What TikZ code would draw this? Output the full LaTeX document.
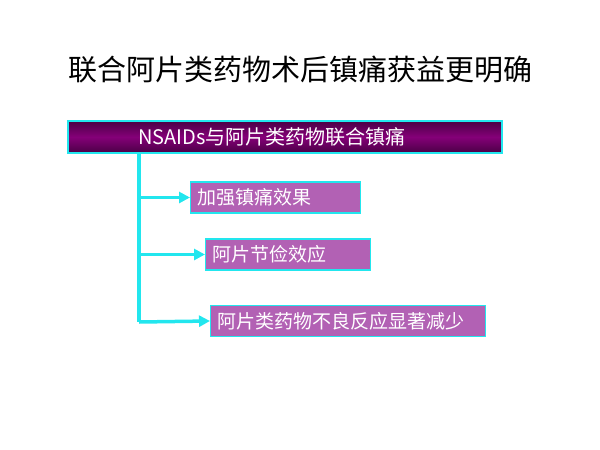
\documentclass[tikz,border=0pt]{standalone}
\usepackage{fontspec}
\newfontfamily\cjk{Noto Sans CJK SC}
\usetikzlibrary{positioning}
\usetikzlibrary{arrows.meta}
\definecolor{lineblue}{HTML}{22E6EE}
\definecolor{headtop}{HTML}{4A0045}
\definecolor{headmid}{HTML}{850078}
\definecolor{itemfill}{HTML}{B261B4}
\tikzset{
  x = 1pt, y = -1pt,
  > = {Triangle[length=11pt, width=11pt]},
  head/.style = {rectangle,
                 draw = lineblue,
                 line width = 2pt,
                 top color = headtop,
                 bottom color = headtop,
                 middle color = headmid,
                 text = white,
                 font = \cjk\fontsize{20}{24}\selectfont,
                 minimum width = 434pt,
                 minimum height = 32pt,
                 text width = 294pt,
                 align = left,
                 inner xsep = 0pt,
                 inner ysep = 0pt},
  item/.style = {rectangle,
                 draw = lineblue,
                 line width = 1.2pt,
                 fill = itemfill,
                 text = white,
                 anchor = west,
                 align = left,
                 font = \cjk\fontsize{19}{22}\selectfont,
                 minimum height = 31pt,
                 inner xsep = 7pt,
                 inner ysep = 0pt},
  branch/.style = {draw = lineblue, line width = 3.5pt, ->}
}
\begin{document}
\begin{tikzpicture}
\useasboundingbox (0,0) rectangle (600,450);

\node[font = \cjk\fontsize{29}{34}\selectfont](title) at (300,70){联合阿片类药物术后镇痛获益更明确};

\node[head](head) at (285,137){NSAIDs与阿片类药物联合镇痛};

\node[item, text width = 156pt](gain) at (190,197.5){加强镇痛效果};
\node[item, text width = 151pt](spare) at (205,254.5){阿片节俭效应};
\node[item, text width = 261pt](side) at (210,321){阿片类药物不良反应显著减少};

\coordinate (trunk) at (139,153);
\coordinate (corner) at (139,322);

\draw[draw = lineblue, line width = 3.5pt] (trunk) -- (corner);
\draw[branch] (139,197.5) -- (gain.west);
\draw[branch] (139,254.5) -- (spare.west);
\draw[branch] (corner) -- (side.west);

\end{tikzpicture}
\end{document}
